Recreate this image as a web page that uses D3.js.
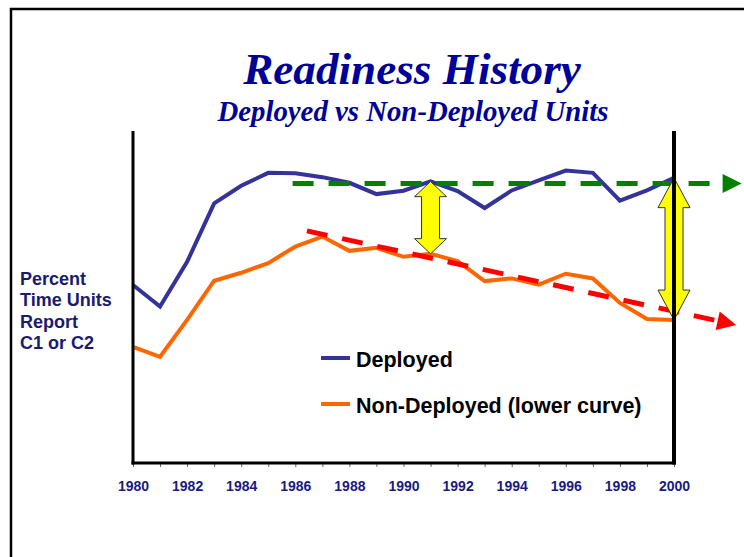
<!DOCTYPE html>
<html>
<head>
<meta charset="utf-8">
<script src="https://cdn.jsdelivr.net/npm/d3@7"></script>
<style>
  body { margin: 0; background: #fff; }
  svg { display: block; }
</style>
</head>
<body>
<div id="chart"></div>
<script>
// years on the x axis
const years = d3.range(1980, 2001);
const tickLabels = ["1980", "1982", "1984", "1986", "1988", "1990", "1992", "1994", "1996", "1998", "2000"];

// percent time units report C1 or C2 (no y scale is shown)
const deployed = [53.6, 47.1, 60.6, 78.2, 83.5, 87.4, 87.3, 86.1, 84.4, 81.0, 82.0,
                  84.8, 81.9, 76.8, 82.1, 85.1, 88.1, 87.4, 79.0, 82.1, 85.9];
const nonDeployed = [35.0, 32.0, 43.1, 54.9, 57.3, 60.2, 65.2, 68.2, 63.9, 64.8, 62.1,
                     63.0, 60.8, 54.8, 55.6, 53.7, 57.0, 55.6, 48.2, 43.4, 43.1];

// trend annotations: [year, value] start and arrow tip
const deployedTrend = [[1985.9, 84.2], [2002.5, 84.2]];
const nonDeployedTrend = [[1986.43, 69.9], [2002.3, 41.6]];

// gap arrows drawn between the two series at these years
const gapYears = [1991, 2000];

const legendNames = ["Deployed", "Non-Deployed (lower curve)"];
const yLabelLines = ["Percent", "Time Units", "Report", "C1 or C2"];

const W = 744, H = 557;
const margin = {left: 133, right: 70, top: 131, bottom: 94};

const svg = d3.select("#chart").append("svg")
  .attr("width", W)
  .attr("height", H);

// outer frame
svg.append("rect")
  .attr("x", 11).attr("y", 9)
  .attr("width", 900).attr("height", 700)
  .attr("fill", "none")
  .attr("stroke", "#000")
  .attr("stroke-width", 2.5);

const x = d3.scaleLinear().domain([1980, 2000]).range([margin.left, 674]);
const y = d3.scaleLinear().domain([0, 100]).range([463, margin.top]);

// titles
svg.append("text")
  .attr("x", 412).attr("y", 84)
  .attr("text-anchor", "middle")
  .style("font", "italic bold 45.2px 'Liberation Serif', 'Times New Roman', serif")
  .attr("fill", "#000099")
  .text("Readiness History");

svg.append("text")
  .attr("x", 413).attr("y", 121)
  .attr("text-anchor", "middle")
  .style("font", "italic bold 28.8px 'Liberation Serif', 'Times New Roman', serif")
  .attr("fill", "#000099")
  .text("Deployed vs Non-Deployed Units");

// y label
const yl = svg.append("text")
  .style("font", "bold 18px 'Liberation Sans', Arial, sans-serif")
  .attr("fill", "#1a1a70");
yLabelLines.forEach((t, i) => {
  yl.append("tspan").attr("x", 20).attr("y", 285 + i * 21.3).text(t);
});

// x axis
const xAxis = d3.axisBottom(x)
  .tickValues(years)
  .tickSize(4)
  .tickPadding(14)
  .tickFormat(d => tickLabels.includes(String(d)) ? String(d) : "");

const gx = svg.append("g")
  .attr("transform", `translate(0,${y(0)})`)
  .call(xAxis);
gx.select(".domain").remove();
gx.selectAll(".tick line").attr("stroke", "#666").attr("stroke-width", 1);
gx.selectAll(".tick text")
  .style("font", "bold 14px 'Liberation Sans', Arial, sans-serif")
  .attr("fill", "#1a1a80");

// series
const line = d3.line().x((d, i) => x(years[i])).y(d => y(d));

svg.append("path")
  .datum(nonDeployed)
  .attr("d", line)
  .attr("fill", "none")
  .attr("stroke", "#ff6600")
  .attr("stroke-width", 4);

svg.append("path")
  .datum(deployed)
  .attr("d", line)
  .attr("fill", "none")
  .attr("stroke", "#333399")
  .attr("stroke-width", 4);

// dashed trend arrows
function trendArrow(pts, color) {
  const p0 = [x(pts[0][0]), y(pts[0][1])];
  const p1 = [x(pts[1][0]), y(pts[1][1])];
  const dx = p1[0] - p0[0], dy = p1[1] - p0[1];
  const len = Math.hypot(dx, dy);
  const ux = dx / len, uy = dy / len;
  const headLen = 19, headHalf = 9.5;
  const base = [p1[0] - ux * headLen, p1[1] - uy * headLen];
  svg.append("line")
    .attr("x1", p0[0]).attr("y1", p0[1])
    .attr("x2", base[0]).attr("y2", base[1])
    .attr("stroke", color)
    .attr("stroke-width", 5)
    .attr("stroke-dasharray", "21,15");
  svg.append("polygon")
    .attr("points", [
      p1,
      [base[0] - uy * headHalf, base[1] + ux * headHalf],
      [base[0] + uy * headHalf, base[1] - ux * headHalf]
    ].map(p => p.join(",")).join(" "))
    .attr("fill", color);
}
trendArrow(deployedTrend, "#008000");
trendArrow(nonDeployedTrend, "#ff0000");

// yellow double arrows between the series
gapYears.forEach(yr => {
  const i = years.indexOf(yr);
  const cx = x(yr);
  const top = y(deployed[i]);
  const bot = y(nonDeployed[i]);
  const head = (bot - top) * 0.21;
  const hw = 16, sw = 9;
  const pts = [
    [cx, top], [cx + hw, top + head], [cx + sw, top + head],
    [cx + sw, bot - head], [cx + hw, bot - head], [cx, bot],
    [cx - hw, bot - head], [cx - sw, bot - head], [cx - sw, top + head],
    [cx - hw, top + head]
  ];
  svg.append("polygon")
    .attr("points", pts.map(p => p.join(",")).join(" "))
    .attr("fill", "#ffff00")
    .attr("stroke", "#333")
    .attr("stroke-width", 1);
});

// plot frame lines
svg.append("line")
  .attr("x1", x(1980)).attr("x2", x(1980))
  .attr("y1", margin.top).attr("y2", y(0) + 1.5)
  .attr("stroke", "#000").attr("stroke-width", 3);
svg.append("line")
  .attr("x1", x(2000)).attr("x2", x(2000))
  .attr("y1", margin.top).attr("y2", y(0) + 1.5)
  .attr("stroke", "#000").attr("stroke-width", 4);
svg.append("line")
  .attr("x1", x(1980) - 1.5).attr("x2", x(2000) + 2)
  .attr("y1", y(0)).attr("y2", y(0))
  .attr("stroke", "#000").attr("stroke-width", 3);

// legend
const legendColors = ["#333399", "#ff6600"];
legendNames.forEach((name, i) => {
  const ly = 358 + i * 46;
  svg.append("line")
    .attr("x1", 321).attr("x2", 350)
    .attr("y1", ly).attr("y2", ly)
    .attr("stroke", legendColors[i])
    .attr("stroke-width", 4);
  svg.append("text")
    .attr("x", 356).attr("y", ly + 8.5)
    .style("font", "bold 21.5px 'Liberation Sans', Arial, sans-serif")
    .attr("fill", "#000")
    .text(name);
});
</script>
</body>
</html>
